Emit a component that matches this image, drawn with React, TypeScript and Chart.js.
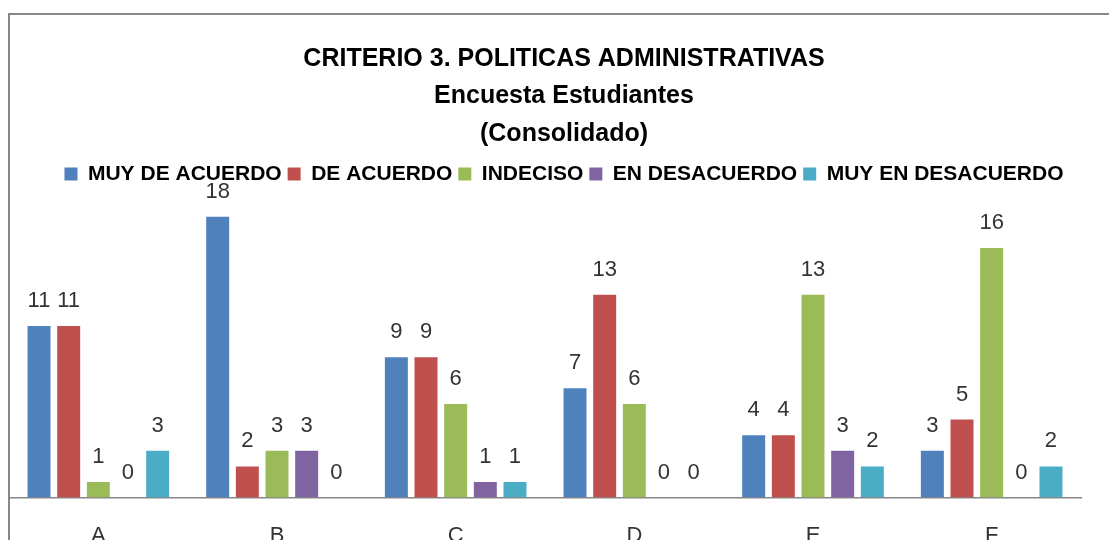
import React, { useEffect, useRef } from "react";
import { Chart, registerables } from "chart.js";

Chart.register(...registerables);

const categories = ["A", "B", "C", "D", "E", "F"];
const seriesNames = ["MUY DE ACUERDO", "DE ACUERDO", "INDECISO", "EN DESACUERDO", "MUY EN DESACUERDO"];
const muyDeAcuerdo = [11, 18, 9, 7, 4, 3];
const deAcuerdo = [11, 2, 9, 13, 4, 5];
const indeciso = [1, 3, 6, 6, 13, 16];
const enDesacuerdo = [0, 3, 1, 0, 3, 0];
const muyEnDesacuerdo = [3, 0, 1, 0, 2, 2];
const colors = ["#4F81BD", "#C0504D", "#9BBB59", "#8064A2", "#4BACC6"];
const titleLines = ["CRITERIO 3. POLITICAS ADMINISTRATIVAS", "Encuesta Estudiantes", "(Consolidado)"];

const FONT = "'Liberation Sans', Arial, sans-serif";

const valueLabels = {
  id: "valueLabels",
  afterDatasetsDraw(chart: any) {
    const ctx = chart.ctx;
    ctx.save();
    ctx.font = `22px ${FONT}`;
    ctx.fillStyle = "#333333";
    ctx.textAlign = "center";
    ctx.textBaseline = "alphabetic";
    chart.data.datasets.forEach((ds: any, di: number) => {
      const meta = chart.getDatasetMeta(di);
      meta.data.forEach((el: any, i: number) => {
        ctx.fillText(String(ds.data[i]), el.x, el.y - 19);
      });
    });
    ctx.restore();
  },
};

export default function App() {
  const ref = useRef<HTMLCanvasElement>(null);
  useEffect(() => {
    if (!ref.current) return;
    const series = [muyDeAcuerdo, deAcuerdo, indeciso, enDesacuerdo, muyEnDesacuerdo];
    const chart = new Chart(ref.current, {
      type: "bar",
      data: {
        labels: categories,
        datasets: series.map((d, i) => ({
          label: seriesNames[i],
          data: d,
          backgroundColor: colors[i],
          borderWidth: 0,
          categoryPercentage: 0.83,
          barPercentage: 0.775,
        })),
      },
      options: {
        animation: false,
        responsive: false,
        devicePixelRatio: 1,
        layout: { padding: { left: 9, right: 11, top: 0, bottom: 50 } },
        plugins: {
          title: {
            display: true,
            text: titleLines,
            color: "#000000",
            font: { family: FONT, size: 25, weight: "bold", lineHeight: 1.5 },
            padding: { top: 40, bottom: 5 },
          },
          legend: {
            display: true,
            position: "top",
            maxHeight: 28,
            labels: {
              boxWidth: 13,
              boxHeight: 13,
              padding: 6,
              color: "#000000",
              font: { family: FONT, size: 21, weight: "bold" },
            },
          },
          tooltip: { enabled: false },
        },
        scales: {
          x: {
            grid: { display: false, drawTicks: false },
            border: { display: true, color: "#868686", width: 1.5 },
            ticks: { color: "#333333", padding: 25, font: { family: FONT, size: 22 } },
          },
          y: { display: false, min: 0, max: 20 },
          yR: {
            type: "linear",
            position: "right",
            display: true,
            min: 0,
            max: 1,
            grid: { display: false, drawTicks: false },
            border: { display: false },
            ticks: { display: false },
            afterFit: (s: any) => {
              s.width = 38;
            },
          },
        },
      },
      plugins: [valueLabels],
    } as any);
    return () => chart.destroy();
  }, []);

  return (
    <div style={{ position: "fixed", left: 0, top: 0, width: 1109, height: 540, overflow: "hidden", background: "#fff" }}>
      <div
        style={{
          position: "absolute",
          left: 8,
          top: 13,
          width: 1200,
          height: 700,
          border: "2px solid #878787",
        }}
      />
      <canvas ref={ref} width={1130} height={624} style={{ position: "absolute", left: 0, top: 0 }} />
    </div>
  );
}
